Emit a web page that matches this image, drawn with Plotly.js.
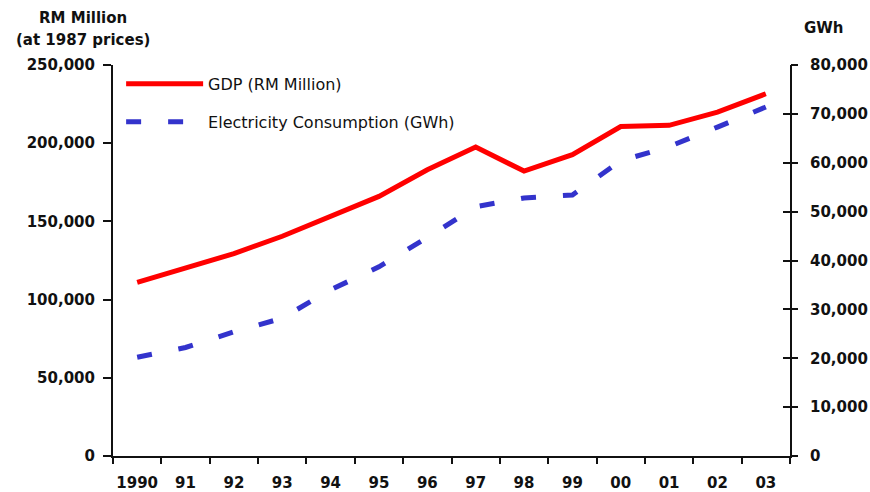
<!DOCTYPE html>
<html>
<head>
<meta charset="utf-8">
<script src="https://cdn.plot.ly/plotly-3.0.1.min.js"></script>
<style>html,body{margin:0;padding:0;background:#fff;}#chart{width:870px;height:492px;}</style>
</head>
<body>
<div id="chart"></div>
<script>
var years = ["1990","91","92","93","94","95","96","97","98","99","00","01","02","03"];
var gdp = [111000, 120200, 129400, 140500, 153000, 166000, 183000, 197500, 182200, 192700, 210700, 211400, 219900, 231600];
var electricity = [20200, 22200, 25400, 28200, 34000, 38700, 44700, 51000, 52800, 53400, 60400, 63300, 67300, 71400];
var leftTicks = [0, 50000, 100000, 150000, 200000, 250000];
var rightTicks = [0, 10000, 20000, 30000, 40000, 50000, 60000, 70000, 80000];

var FONT = "DejaVu Sans, Arial, sans-serif";
var FONTB = "DejaVu Sans, Arial, sans-serif";

var traces = [
  {x: years, y: gdp, name: "GDP (RM Million)", type: "scatter", mode: "lines", legendgroup: "a",
   line: {color: "#ff0000", width: 5}, yaxis: "y"},
  {x: years, y: electricity, name: "Electricity Consumption (GWh)", type: "scatter", mode: "lines", legendgroup: "b",
   line: {color: "#3333cc", width: 5, dash: "15px,27px"}, yaxis: "y2"},
  {x: years, y: electricity, yaxis: "y3", type: "scatter", mode: "lines", opacity: 0,
   line: {width: 0}, showlegend: false, hoverinfo: "skip"}
];

var layout = {
  width: 870, height: 492,
  margin: {l: 113, r: 80, t: 65, b: 36},
  paper_bgcolor: "#ffffff", plot_bgcolor: "#ffffff",
  showlegend: true,
  legend: {x: 0.012, y: 0.995, xanchor: "left", yanchor: "top", bgcolor: "rgba(0,0,0,0)",
           traceorder: "grouped", tracegroupgap: 14,
           font: {family: FONT, size: 16, color: "#111"}, itemwidth: 77},
  xaxis: {type: "category", range: [-0.5, 13.5], tickson: "boundaries", showgrid: false, zeroline: false,
          showline: true, linecolor: "#111", linewidth: 2, tickangle: 0,
          ticks: "outside", ticklen: 6, tickwidth: 2, tickcolor: "#111",
          ticklabelstandoff: 12,
          tickfont: {family: FONTB, size: 15, color: "#111", weight: "bold"}},
  yaxis: {range: [0, 250000], tickvals: leftTicks, tickformat: ",d", showgrid: false, zeroline: false,
          showline: true, linecolor: "#111", linewidth: 2,
          ticks: "outside", ticklen: 8, tickwidth: 2, tickcolor: "#111",
          ticklabelstandoff: 5,
          tickfont: {family: FONTB, size: 15, color: "#111", weight: "bold"}},
  yaxis2: {range: [0, 80000], tickvals: rightTicks, tickformat: ",d", overlaying: "y", side: "right",
           showgrid: false, zeroline: false, showline: true, linecolor: "#111", linewidth: 2,
           ticks: "inside", ticklen: 7, tickwidth: 2, tickcolor: "#111",
           ticklabelstandoff: 15,
           tickfont: {family: FONTB, size: 15, color: "#111", weight: "bold"}},
  yaxis3: {range: [0, 80000], tickvals: rightTicks, overlaying: "y", side: "right", anchor: "x",
           showgrid: false, zeroline: false, showline: false, showticklabels: false,
           ticks: "outside", ticklen: 7, tickwidth: 2, tickcolor: "#111"},
  annotations: [
    {text: "RM Million", xref: "paper", yref: "paper", x: -0.0443, y: 1.120, showarrow: false,
     xanchor: "center", yanchor: "middle", font: {family: FONTB, size: 15, color: "#111", weight: "bold"}},
    {text: "(at 1987 prices)", xref: "paper", yref: "paper", x: -0.0443, y: 1.064, showarrow: false,
     xanchor: "center", yanchor: "middle", font: {family: FONTB, size: 15, color: "#111", weight: "bold"}},
    {text: "GWh", xref: "paper", yref: "paper", x: 1.050, y: 1.095, showarrow: false,
     xanchor: "center", yanchor: "middle", font: {family: FONTB, size: 15, color: "#111", weight: "bold"}}
  ]
};

Plotly.newPlot("chart", traces, layout, {displayModeBar: false, staticPlot: true});
</script>
</body>
</html>
